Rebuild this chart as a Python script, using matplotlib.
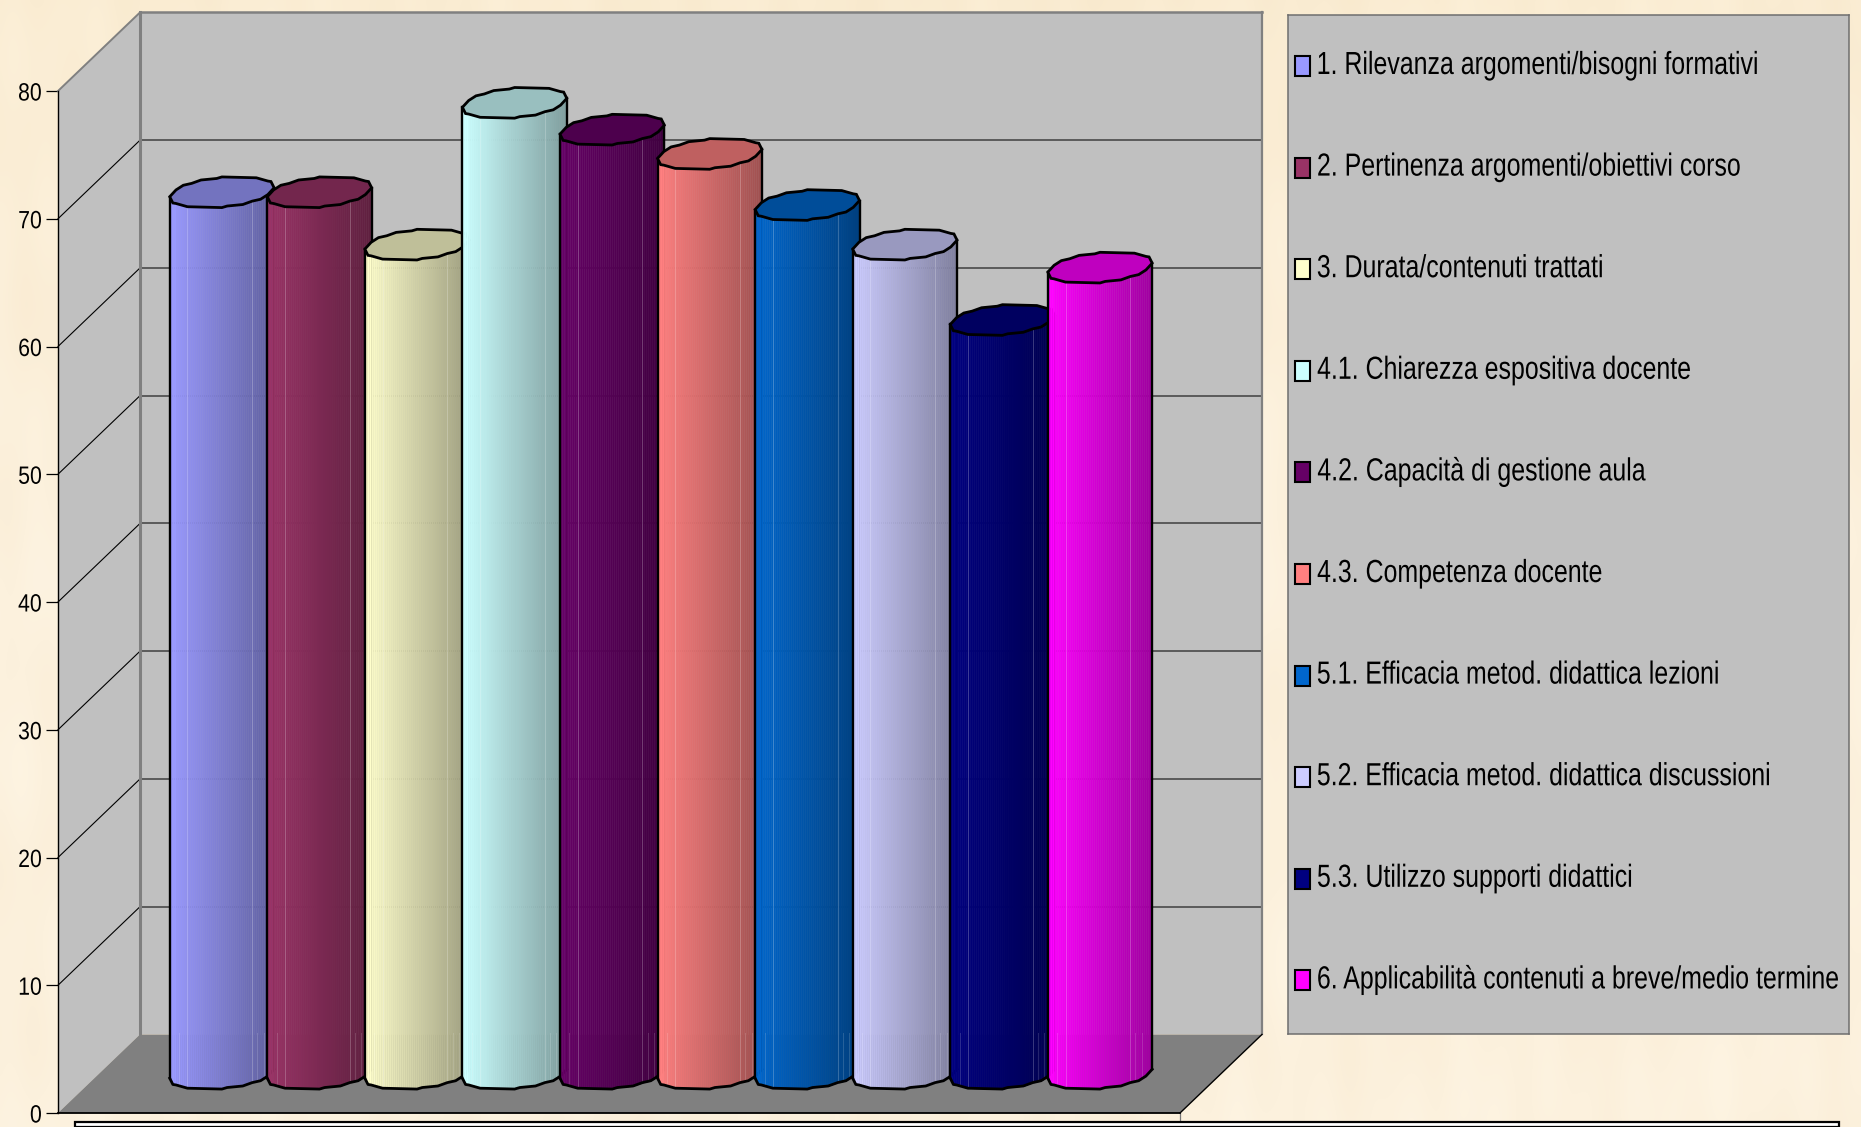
import numpy as np
import matplotlib
matplotlib.use("Agg")
import matplotlib.pyplot as plt
from matplotlib.patches import Polygon, Rectangle
from matplotlib.patheffects import AbstractPathEffect
from matplotlib.transforms import Affine2D

plt.rcParams['font.family'] = ['Liberation Sans', 'DejaVu Sans']

labels = [
    "1. Rilevanza argomenti/bisogni formativi",
    "2. Pertinenza argomenti/obiettivi corso",
    "3. Durata/contenuti trattati",
    "4.1. Chiarezza espositiva docente",
    "4.2. Capacità di gestione aula",
    "4.3. Competenza docente",
    "5.1. Efficacia metod. didattica lezioni",
    "5.2. Efficacia metod. didattica discussioni",
    "5.3. Utilizzo supporti didattici",
    "6. Applicabilità contenuti a breve/medio termine",
]
values = [69, 69, 64.9, 76, 73.9, 72, 68, 64.9, 59, 63.1]
colors = ["#9999FF", "#993366", "#FFFFCC", "#CCFFFF", "#660066",
          "#FF8080", "#0066CC", "#CCCCFF", "#000080", "#FF00FF"]
yticks = [0, 10, 20, 30, 40, 50, 60, 70, 80]

W, H = 1861, 1127
fig = plt.figure(figsize=(W / 100, H / 100), dpi=100)


class Squeeze(AbstractPathEffect):
    # horizontal condensing of a text outline, the right end stays in place
    def __init__(self, sx):
        super().__init__()
        self.sx = sx

    def draw_path(self, renderer, gc, tpath, affine, rgbFace=None):
        ref = tpath.get_extents().x1
        tr = Affine2D().translate(-ref, 0).scale(self.sx, 1).translate(ref, 0) + affine
        renderer.draw_path(gc, tpath, tr, rgbFace)


def box(left, top, right, bottom):
    # pixel box -> figure fractions
    return [left / W, 1 - bottom / H, (right - left) / W, (bottom - top) / H]


# parchment backdrop
bg = fig.add_axes([0, 0, 1, 1], zorder=0)
yy, xx = np.mgrid[0:H:4, 0:W:4]
mott = (np.sin(xx / 37.0 + yy / 91.0) + np.sin(xx / 13.0 - yy / 57.0 + 1.3)
        + 0.7 * np.sin(xx / 7.0 + yy / 160.0) + np.sin(yy / 29.0 + xx / 210.0)) / 3.7
fade = np.clip(1 - yy / 500.0, 0, 1)
tex = np.dstack([252 + 1.5 * mott - 2 * fade,
                 241 + 3.0 * mott - 5 * fade,
                 221 + 5.0 * mott - 11 * fade]) / 255.0
bg.imshow(np.clip(tex, 0, 1), extent=[0, W, H, 0], aspect="auto", interpolation="bicubic")
bg.axis("off")

# front plane of the 3D box
ax = fig.add_axes(box(58, 91, 1180, 1113), zorder=2)
ax.patch.set_alpha(0)
x0, x1 = -1.26, 10.24
ax.set_xlim(x0, x1)
ax.set_ylim(0, 80)
DX = 82 / 97.6     # depth offset in x units
DY = 78.5 / 12.77  # depth offset in value units


def proj(x, v, d):
    return x + d * DX, v + d * DY


def quad(pts, **kw):
    ax.add_patch(Polygon([proj(*p) for p in pts], closed=True, clip_on=False, **kw))


def seg(a, b, **kw):
    xa, ya = proj(*a)
    xb, yb = proj(*b)
    ax.plot([xa, xb], [ya, yb], clip_on=False, **kw)


# walls and floor
quad([(x0, 0, 1), (x1, 0, 1), (x1, 80, 1), (x0, 80, 1)], facecolor="#C0C0C0", edgecolor="none", zorder=1)
quad([(x0, 0, 0), (x0, 0, 1), (x0, 80, 1), (x0, 80, 0)], facecolor="#C0C0C0", edgecolor="none", zorder=1)
quad([(x0, 0, 0), (x1, 0, 0), (x1, 0, 1), (x0, 0, 1)], facecolor="#808080", edgecolor="none", zorder=1)

for t in yticks[1:-1]:
    seg((x0, t, 1), (x1, t, 1), color="#404040", lw=1.1, zorder=2)
    seg((x0, t, 0), (x0, t, 1), color="black", lw=0.8, zorder=2)

seg((x0, 0, 1), (x0, 80, 1), color="#808080", lw=2.2, zorder=3)
seg((x0, 80, 1), (x1, 80, 1), color="#808080", lw=1.8, zorder=3)
seg((x1, 80, 1), (x1, 0, 1), color="#808080", lw=1.6, zorder=3)
seg((x0, 80, 0), (x0, 80, 1), color="#808080", lw=1.4, zorder=3)
seg((x1, 0, 0), (x1, 0, 1), color="black", lw=1.0, zorder=3)
seg((x1, 0, 0), (x1, -0.72, 0), color="#777777", lw=0.9, zorder=3)

# cylinder geometry, x fraction of the vertices along the front rim
half_w = 0.535
rim_b = 1.2
rim_tilt = 0.35
rim_t = np.array([0, 0.03, 0.06, 0.17, 0.50, 0.55, 0.70, 0.79, 0.87, 0.94, 1.0])
rim_off = np.array([0, -0.1, 0, 0, 0, 0.08, 0, 0.08, 0, 0.08, 0])


def front_rim(t, v):
    s = np.sqrt(np.clip(1 - (2 * t - 1) ** 2, 0, 1))
    return v - rim_b * s + rim_tilt * (2 * t - 1)


def back_rim(t, v):
    s = np.sqrt(np.clip(1 - (2 * t - 1) ** 2, 0, 1))
    return v + rim_b * s + rim_tilt * (2 * t - 1)


def shade(col, f):
    return tuple(np.array(matplotlib.colors.to_rgb(col)) * f)


for i, (val, col) in enumerate(zip(values, colors)):
    z = 10 + i
    cx, _ = proj(i, 0, 0.5)
    base = 0.5 * DY
    top = base + val
    left = cx - half_w

    t_front = rim_t
    t_back = (1 - rim_t)[::-1]
    low_f = front_rim(t_front, base) + rim_off
    top_f = front_rim(t_front, top) + rim_off

    # side of the cylinder as narrow vertical strips, darker to the right
    edges = np.linspace(0, 1, 53)
    for a, b in zip(edges[:-1], edges[1:]):
        tm = np.array([a, b])
        xs = left + 2 * half_w * tm
        ya = np.interp(tm, t_front, low_f)
        yb = np.interp(tm, t_front, top_f)
        f = 1.0 if b < 0.06 else 1.0 - 0.38 * (a + b) / 2
        ax.fill_between(xs, ya, yb, color=shade(col, f), lw=0.3, clip_on=False, zorder=z)

    # facet seams
    for t in [0.17, 0.79]:
        xs = left + 2 * half_w * t
        ax.plot([xs, xs], [np.interp(t, t_front, low_f), np.interp(t, t_front, top_f)],
                color="white", alpha=0.22, lw=0.7, clip_on=False, zorder=z)
    for t in [0.09, 0.84, 0.90]:
        xs = left + 2 * half_w * t
        ax.plot([xs, xs], [np.interp(t, t_front, low_f), base + 3.2],
                color="white", alpha=0.15, lw=0.7, clip_on=False, zorder=z)

    # outline and lid
    ax.plot(left + 2 * half_w * t_front, low_f, color="black", lw=2.0, clip_on=False, zorder=z,
            solid_joinstyle="round")
    ax.plot([left, left], [low_f[0], top_f[0]], color="black", lw=1.7, clip_on=False, zorder=z)
    ax.plot([left + 2 * half_w] * 2, [low_f[-1], top_f[-1]], color="black", lw=1.7, clip_on=False, zorder=z)
    lid_x = np.concatenate([left + 2 * half_w * t_front, (left + 2 * half_w * t_back)[::-1]])
    lid_y = np.concatenate([top_f, (back_rim(t_back, top) - rim_off[::-1])[::-1]])
    ax.add_patch(Polygon(np.column_stack([lid_x, lid_y]), closed=True, facecolor=shade(col, 0.75),
                         edgecolor="black", lw=2.0, clip_on=False, zorder=z + 0.5))

for s in ["top", "right"]:
    ax.spines[s].set_visible(False)
ax.spines["left"].set_linewidth(1.0)
ax.spines["bottom"].set_linewidth(1.3)
ax.spines["left"].set_zorder(5)
ax.spines["bottom"].set_zorder(5)
ax.set_xticks([])
ax.set_yticks(yticks)
ax.tick_params(axis="y", length=8.5, width=0.9, pad=3, labelsize=18)
for lab in ax.get_yticklabels():
    lab.set_path_effects([Squeeze(0.85)])

# data table frame running off the lower edge
fig.add_artist(Rectangle((75 / W, 0), (1839 - 75) / W, 1 - 1122 / H, transform=fig.transFigure,
                         facecolor="white", edgecolor="black", lw=1.6, zorder=3))

# legend panel, in pixel units
lg = fig.add_axes(box(1288, 15, 1849, 1034), zorder=3)
lg.set_xlim(1288, 1849)
lg.set_ylim(1034, 15)
lg.set_facecolor("#C0C0C0")
lg.set_xticks([])
lg.set_yticks([])
for s in lg.spines.values():
    s.set_color("#6E6E6E")
    s.set_linewidth(1.1)
squeeze = 0.78
rend = fig.canvas.get_renderer()
for i, (name, col) in enumerate(zip(labels, colors)):
    base_y = 74 + 101.6 * i
    lg.add_patch(Rectangle((1295, base_y - 18), 15, 20, facecolor=col, edgecolor="black", lw=1.5))
    txt = lg.text(1317.5, base_y, name, fontsize=23, color="black", va="baseline", ha="right")
    # labels start at the same x once condensed, so the right end depends on the width
    txt.set_x(1317.5 + txt.get_window_extent(rend).width * squeeze)
    txt.set_path_effects([Squeeze(squeeze)])

fig.savefig("out.png", dpi=100)
